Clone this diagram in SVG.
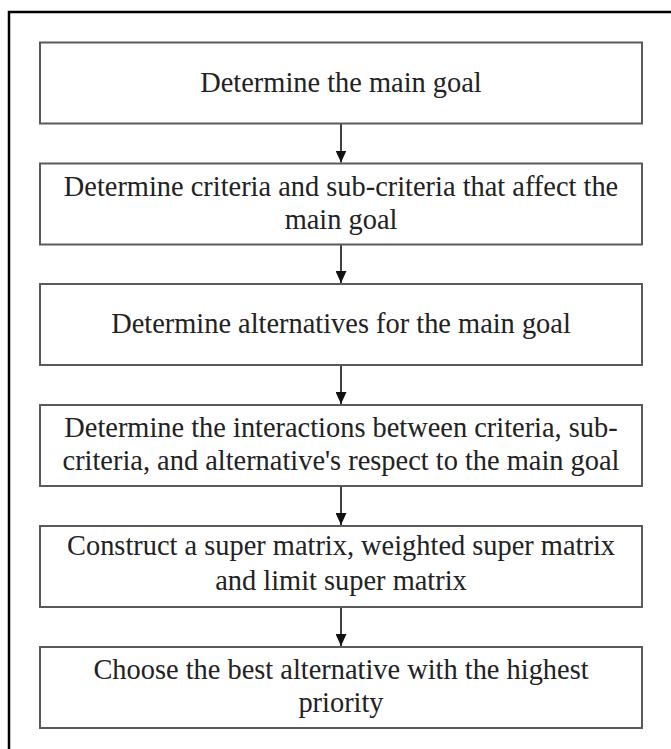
<svg xmlns="http://www.w3.org/2000/svg" width="671" height="749" viewBox="0 0 671 749">
<style>
.box{fill:#fff;stroke:#5a5a5a;stroke-width:2}
.t{font-family:"Liberation Serif","Times New Roman",serif;font-size:28.4px;fill:#222;text-anchor:middle}
.c{stroke:#111;stroke-width:1.6;fill:none}
</style>
<defs>
<marker id="ah" markerWidth="12" markerHeight="11" refX="12" refY="5.5" orient="auto" markerUnits="userSpaceOnUse" viewBox="0 0 12 11">
<path d="M0,0 L12,5.5 L0,11 Z" fill="#111"/>
</marker>
</defs>
<rect width="671" height="749" fill="#fff"/>
<path d="M9,760 L9,12 L680,12" fill="none" stroke="#000" stroke-width="2.5"/>
<g id="connectors">
<line class="c" x1="341" y1="123.5" x2="341" y2="162.5" marker-end="url(#ah)"/>
<line class="c" x1="341" y1="244.5" x2="341" y2="283" marker-end="url(#ah)"/>
<line class="c" x1="341" y1="365" x2="341" y2="404" marker-end="url(#ah)"/>
<line class="c" x1="341" y1="486" x2="341" y2="525" marker-end="url(#ah)"/>
<line class="c" x1="341" y1="607" x2="341" y2="646" marker-end="url(#ah)"/>
</g>
<g id="n1"><rect class="box" x="40" y="42.5" width="602" height="81"/><text class="t" x="341" y="92">Determine the main goal</text></g>
<g id="n2"><rect class="box" x="40" y="163.5" width="602" height="81"/><text class="t" x="341" y="195.5">Determine criteria and sub-criteria that affect the</text><text class="t" x="341" y="228.5">main goal</text></g>
<g id="n3"><rect class="box" x="40" y="284" width="602" height="81"/><text class="t" x="341" y="333">Determine alternatives for the main goal</text></g>
<g id="n4"><rect class="box" x="40" y="405" width="602" height="81"/><text class="t" x="341" y="437">Determine the interactions between criteria, sub-</text><text class="t" x="341" y="470">criteria, and alternative's respect to the main goal</text></g>
<g id="n5"><rect class="box" x="40" y="526" width="602" height="81"/><text class="t" x="341" y="555">Construct a super matrix, weighted super matrix</text><text class="t" x="341" y="590">and limit super matrix</text></g>
<g id="n6"><rect class="box" x="40" y="647" width="602" height="81"/><text class="t" x="341" y="679">Choose the best alternative with the highest</text><text class="t" x="341" y="712">priority</text></g>
</svg>
